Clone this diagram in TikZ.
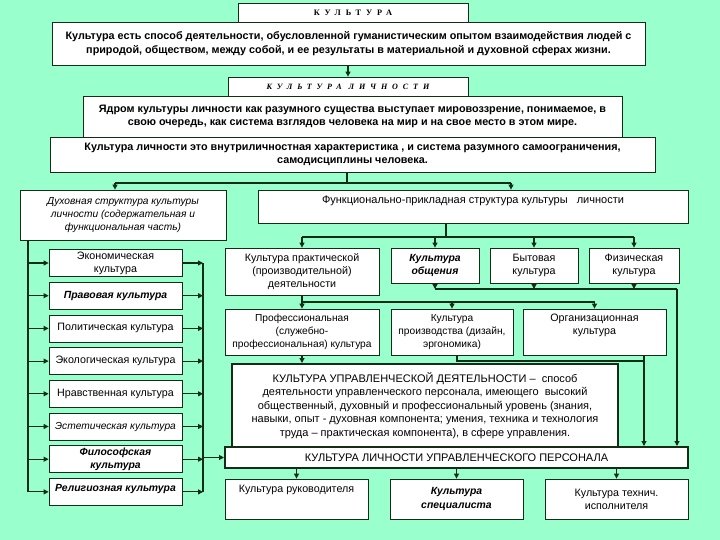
\documentclass[tikz,border=0pt]{standalone}
\usepackage{fontspec}
\setmainfont{Liberation Sans}
\newfontfamily\titlefont[LetterSpace=60]{Liberation Serif}
\usetikzlibrary{arrows.meta}
\definecolor{bgmint}{RGB}{153,255,204}
\definecolor{linedark}{RGB}{20,45,20}

\begin{document}
\begin{tikzpicture}[x=1pt,y=-1pt,
  box/.style={draw=linedark, fill=white, line width=0.8pt, inner sep=1pt, align=center, font=\fontsize{10.7}{13.2}\selectfont},
  boldbox/.style={box, font=\fontsize{10.8}{13.5}\selectfont\bfseries},
  italbox/.style={box, font=\fontsize{10.2}{13.2}\selectfont\itshape},
  bibox/.style={box, font=\fontsize{10.4}{13.2}\selectfont\bfseries\itshape},
  heavybox/.style={box, line width=2pt, font=\fontsize{11}{13.4}\selectfont},
  titlebox/.style={box, font=\titlefont\fontsize{8.3}{9}\selectfont\bfseries},
  wire/.style={draw=linedark, line width=1.1pt},
  arr/.style={wire, -{Triangle[length=5pt,width=5pt]}}]
\fill[bgmint] (0,0) rectangle (720,540);
\useasboundingbox (0,0) rectangle (720,540);

\node[titlebox, minimum width=230pt, minimum height=19pt] (kult) at (353,12.5) {КУЛЬТУРА};
\node[boldbox, minimum width=593pt, minimum height=43pt] (def) at (348.5,43.5) {Культура есть способ деятельности, обусловленной гуманистическим опытом взаимодействия людей с\\ природой, обществом, между собой, и ее результаты в материальной и духовной сферах жизни.};
\node[titlebox, font=\titlefont\fontsize{8.1}{9}\selectfont\bfseries\itshape, minimum width=240pt, minimum height=19pt] (kl) at (348,86.5) {КУЛЬТУРА ЛИЧНОСТИ};
\node[boldbox, minimum width=539pt, minimum height=41pt] (yadro) at (352.5,116.5) {Ядром культуры личности как разумного существа выступает мировоззрение, понимаемое, в\\ свою очередь, как система взглядов человека на мир и на свое место в этом мире.};
\node[boldbox, minimum width=605pt, minimum height=35pt] (kle) at (352.5,154.5) {Культура личности это внутриличностная характеристика , и система разумного самоограничения,\\ самодисциплины человека.};

\node[italbox, minimum width=206pt, minimum height=50pt] (dukh) at (123,215) {Духовная структура культуры\\ личности (содержательная и\\ функциональная часть)};
\node[box, font=\fontsize{11}{13}\selectfont, minimum width=430pt, minimum height=33pt, text depth=13pt] (func) at (473,206.5) {Функционально-прикладная структура культуры \ \ личности};

\node[box, minimum width=133pt, minimum height=27pt] (econ) at (115.5,263) {Экономическая\\ культура};
\node[bibox, minimum width=133pt, minimum height=27pt] (prav) at (115.5,295.7) {Правовая культура};
\node[box, minimum width=133pt, minimum height=27pt] (polit) at (115.5,328.4) {Политическая культура};
\node[box, minimum width=133pt, minimum height=27pt] (ekol) at (115.5,361.1) {Экологическая культура};
\node[box, minimum width=133pt, minimum height=27pt] (nrav) at (115.5,393.8) {Нравственная культура};
\node[italbox, minimum width=133pt, minimum height=27pt] (estet) at (115.5,426.5) {Эстетическая культура};
\node[bibox, minimum width=133pt, minimum height=27pt] (filos) at (115.5,459.2) {Философская\\ культура};
\node[bibox, minimum width=133pt, minimum height=27pt, text depth=7pt] (relig) at (115.5,491.9) {Религиозная культура};

\node[box, minimum width=154pt, minimum height=47pt] (prakt) at (302,271.5) {Культура практической\\ (производительной)\\ деятельности};
\node[bibox, minimum width=88pt, minimum height=35pt] (obsh) at (435,265.5) {Культура\\ общения};
\node[box, minimum width=88pt, minimum height=35pt] (byt) at (534,265.5) {Бытовая\\ культура};
\node[box, minimum width=90pt, minimum height=35pt] (fiz) at (634,265.5) {Физическая\\ культура};

\node[box, font=\fontsize{10.2}{12.8}\selectfont, minimum width=154pt, minimum height=46pt] (prof) at (302,332) {Профессиональная\\ (служебно-\\ профессиональная) культура};
\node[box, font=\fontsize{10.2}{12.8}\selectfont, minimum width=122pt, minimum height=46pt] (proizv) at (452,332) {Культура\\ производства (дизайн,\\ эргономика)};
\node[box, minimum width=143pt, minimum height=46pt, text depth=16pt] (org) at (594.5,332) {Организационная\\ культура};

\node[heavybox, minimum width=386pt, minimum height=83pt] (kud) at (425,405.5) {КУЛЬТУРА УПРАВЛЕНЧЕСКОЙ ДЕЯТЕЛЬНОСТИ – \ способ\\ деятельности управленческого персонала, имеющего \ высокий\\ общественный, духовный и профессиональный уровень (знания,\\ навыки, опыт - духовная компонента; умения, техника и технология\\ труда – практическая компонента), в сфере управления.};
\node[heavybox, minimum width=463pt, minimum height=21pt] (klup) at (456.5,457.5) {КУЛЬТУРА ЛИЧНОСТИ УПРАВЛЕНЧЕСКОГО ПЕРСОНАЛА};

\node[box, minimum width=143pt, minimum height=40pt, text depth=20pt] (ruk) at (296.5,499) {Культура руководителя};
\node[bibox, minimum width=133pt, minimum height=40pt] (spec) at (456.5,499) {Культура\\ специалиста};
\node[box, minimum width=143pt, minimum height=40pt] (tech) at (616.5,499) {Культура технич.\\ исполнителя};

\draw[arr] (def.south -| kl.north) -- (kl.north);

\coordinate (kb) at (347,183);
\coordinate (kbl) at (115,183);
\coordinate (kbr) at (511,183);
\draw[wire] (kle.south -| kb) -- (kb);
\draw[wire] (kbl) -- (kbr);
\draw[arr] (kbl) -- (kbl |- dukh.north);
\draw[arr] (kbr) -- (kbr |- func.north);

\coordinate (lb) at (28,0);
\coordinate (rb) at (203,0);
\draw[wire] (lb |- dukh.south) -- (lb |- relig);
\draw[wire] (rb |- econ) -- (rb |- relig);
\foreach \n in {econ,prav,polit,ekol,nrav,estet,filos,relig} {
  \draw[arr] (lb |- \n) -- (\n.west);
  \draw[arr] (\n.east) -- (rb |- \n);
}
\draw[arr] (rb |- klup) -- (klup.west);

\coordinate (fb) at (446,237);
\draw[wire] (func.south -| fb) -- (fb);
\draw[wire] (fb -| prakt) -- (fb -| fiz);
\foreach \n in {prakt,obsh,byt,fiz}
  \draw[arr] (fb -| \n.north) -- (\n.north);

\coordinate (pb) at (0,302);
\draw[wire] (prakt.south) -- (prakt.south |- pb) -- (org.north |- pb);
\foreach \n in {prof,proizv,org}
  \draw[arr] (\n.north |- pb) -- (\n.north);

\coordinate (ob) at (677,289);
\foreach \n in {obsh,byt,fiz}
  \draw[arr] (\n.south) -- (\n.south |- ob);
\draw[wire] (obsh.south |- ob) -- (ob);
\draw[arr] (ob) -- (ob |- klup.north);

\coordinate (cb) at (644,361);
\draw[wire] ([xshift=5pt]proizv.south) -- ([xshift=5pt]proizv.south |- cb) -- (cb);
\draw[arr] (org.south -| cb) -- (cb |- klup.north);

\draw[arr] (prof.south) -- (prof.south |- kud.north);
\foreach \n in {ruk,spec,tech}
  \draw[arr] (klup.south -| \n.north) -- (\n.north);
\end{tikzpicture}
\end{document}
